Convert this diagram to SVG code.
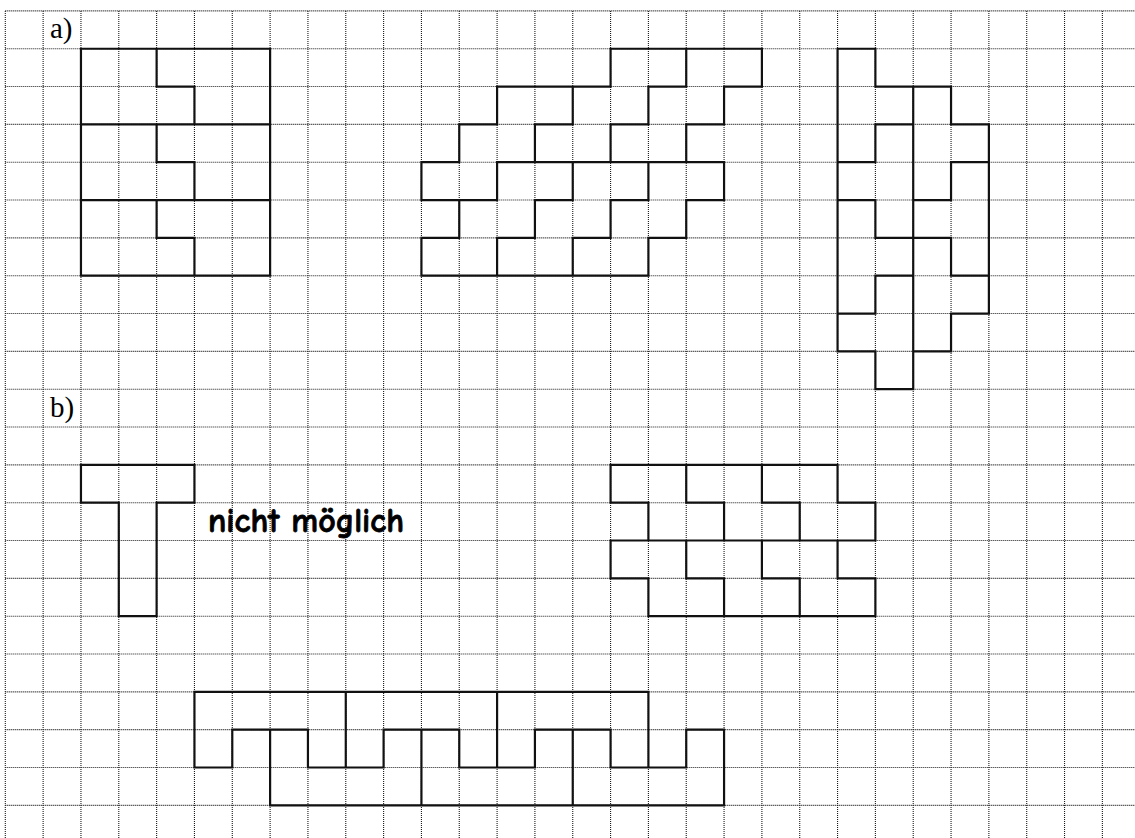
<svg xmlns="http://www.w3.org/2000/svg" width="1135" height="838" viewBox="0 0 1135 838">
  <style>
    .grid { fill: none; stroke: #1a1a1a; stroke-width: 1.1; stroke-dasharray: 1 1; }
    .shape { fill: none; stroke: #111; stroke-width: 0.058; stroke-linecap: square; stroke-linejoin: miter; }
    .lbl { font-family: "Liberation Serif", "Times New Roman", serif; font-size: 29px; fill: #000; }
    .note { font-family: "Comic Sans MS", "Comic Neue", "Open Sans", sans-serif; font-weight: 900; font-size: 34px; fill: #000; stroke: #000; stroke-width: 0.8; }
  </style>
  <rect x="0" y="0" width="1135" height="838" fill="#fff"/>
  <g id="grid">
    <path class="grid" d="M5.3 10.9H1135M5.3 48.73H1135M5.3 86.56H1135M5.3 124.39H1135M5.3 162.22H1135M5.3 200.05H1135M5.3 237.88H1135M5.3 275.71H1135M5.3 313.54H1135M5.3 351.37H1135M5.3 389.2H1135M5.3 427.03H1135M5.3 464.86H1135M5.3 502.69H1135M5.3 540.52H1135M5.3 578.35H1135M5.3 616.18H1135M5.3 654.01H1135M5.3 691.84H1135M5.3 729.67H1135M5.3 767.5H1135M5.3 805.33H1135"/>
    <path class="grid" d="M5.3 10.9V838M43.13 10.9V838M80.96 10.9V838M118.79 10.9V838M156.62 10.9V838M194.45 10.9V838M232.28 10.9V838M270.11 10.9V838M307.94 10.9V838M345.77 10.9V838M383.6 10.9V838M421.43 10.9V838M459.26 10.9V838M497.09 10.9V838M534.92 10.9V838M572.75 10.9V838M610.58 10.9V838M648.41 10.9V838M686.24 10.9V838M724.07 10.9V838M761.9 10.9V838M799.73 10.9V838M837.56 10.9V838M875.39 10.9V838M913.22 10.9V838M951.05 10.9V838M988.88 10.9V838M1026.71 10.9V838M1064.54 10.9V838M1102.37 10.9V838"/>
  </g>
  <g id="labels">
    <text class="lbl" x="50" y="37.5">a)</text>
    <text class="lbl" x="50" y="417">b)</text>
  </g>
  <g transform="translate(5.3 10.9) scale(37.83)">
    <g id="shape-a1">
      <path class="shape" d="M2 1H7V7H2Z M4 1V2H5V3 M2 3H7 M4 3V4H5V5 M2 5H7 M4 5V6H5V7"/>
    </g>
    <g id="shape-a2">
      <path class="shape" d="M16 1H20 M13 2H16 M17 2H18 M19 2H20 M12 3H13 M14 3H15 M16 3H17 M18 3H19 M11 4H12 M13 4H19 M11 5H13 M14 5H15 M16 5H17 M18 5H19 M11 6H12 M13 6H14 M15 6H16 M17 6H18 M11 7H17 M11 4V5 M11 6V7 M12 3V4 M12 5V6 M13 2V3 M13 4V5 M13 6V7 M14 3V4 M14 5V6 M15 2V3 M15 4V5 M15 6V7 M16 1V2 M16 3V4 M16 5V6 M17 2V3 M17 4V5 M17 6V7 M18 1V2 M18 3V4 M18 5V6 M19 2V3 M19 4V5 M20 1V2"/>
    </g>
    <g id="shape-a3">
      <path class="shape" d="M22 1H23 M23 2H25 M23 3H24 M25 3H26 M22 4H23 M25 4H26 M22 5H23 M24 5H25 M23 6H25 M23 7H24 M25 7H26 M22 8H23 M25 8H26 M22 9H23 M24 9H25 M23 10H24 M22 1V9 M23 1V2 M23 3V4 M23 5V6 M23 7V8 M23 9V10 M24 2V10 M25 2V3 M25 4V5 M25 6V7 M25 8V9 M26 3V8"/>
    </g>
    <g id="shape-b1">
      <path class="shape" d="M2 12H5V13H4V16H3V13H2Z"/>
    </g>
    <g id="shape-b2">
      <path class="shape" d="M16 12H22 M16 13H17 M18 13H19 M20 13H21 M22 13H23 M16 14H23 M16 15H17 M18 15H19 M20 15H21 M22 15H23 M17 16H23 M16 12V13 M16 14V15 M17 13V14 M17 15V16 M18 12V13 M18 14V15 M19 13V14 M19 15V16 M20 12V13 M20 14V15 M21 13V14 M21 15V16 M22 12V13 M22 14V15 M23 13V14 M23 15V16"/>
    </g>
    <g id="shape-b3">
      <path class="shape" d="M5 18H17 M6 19H8 M10 19H12 M14 19H16 M18 19H19 M5 20H6 M8 20H10 M12 20H14 M16 20H18 M7 21H19 M5 18V20 M6 19V20 M7 19V21 M8 19V20 M9 18V20 M10 19V20 M11 19V21 M12 19V20 M13 18V20 M14 19V20 M15 19V21 M16 19V20 M17 18V20 M18 19V20 M19 19V21"/>
    </g>
  </g>
  <g id="note">
    <text class="note" x="208" y="532" textLength="196" lengthAdjust="spacingAndGlyphs">nicht möglich</text>
  </g>
</svg>
